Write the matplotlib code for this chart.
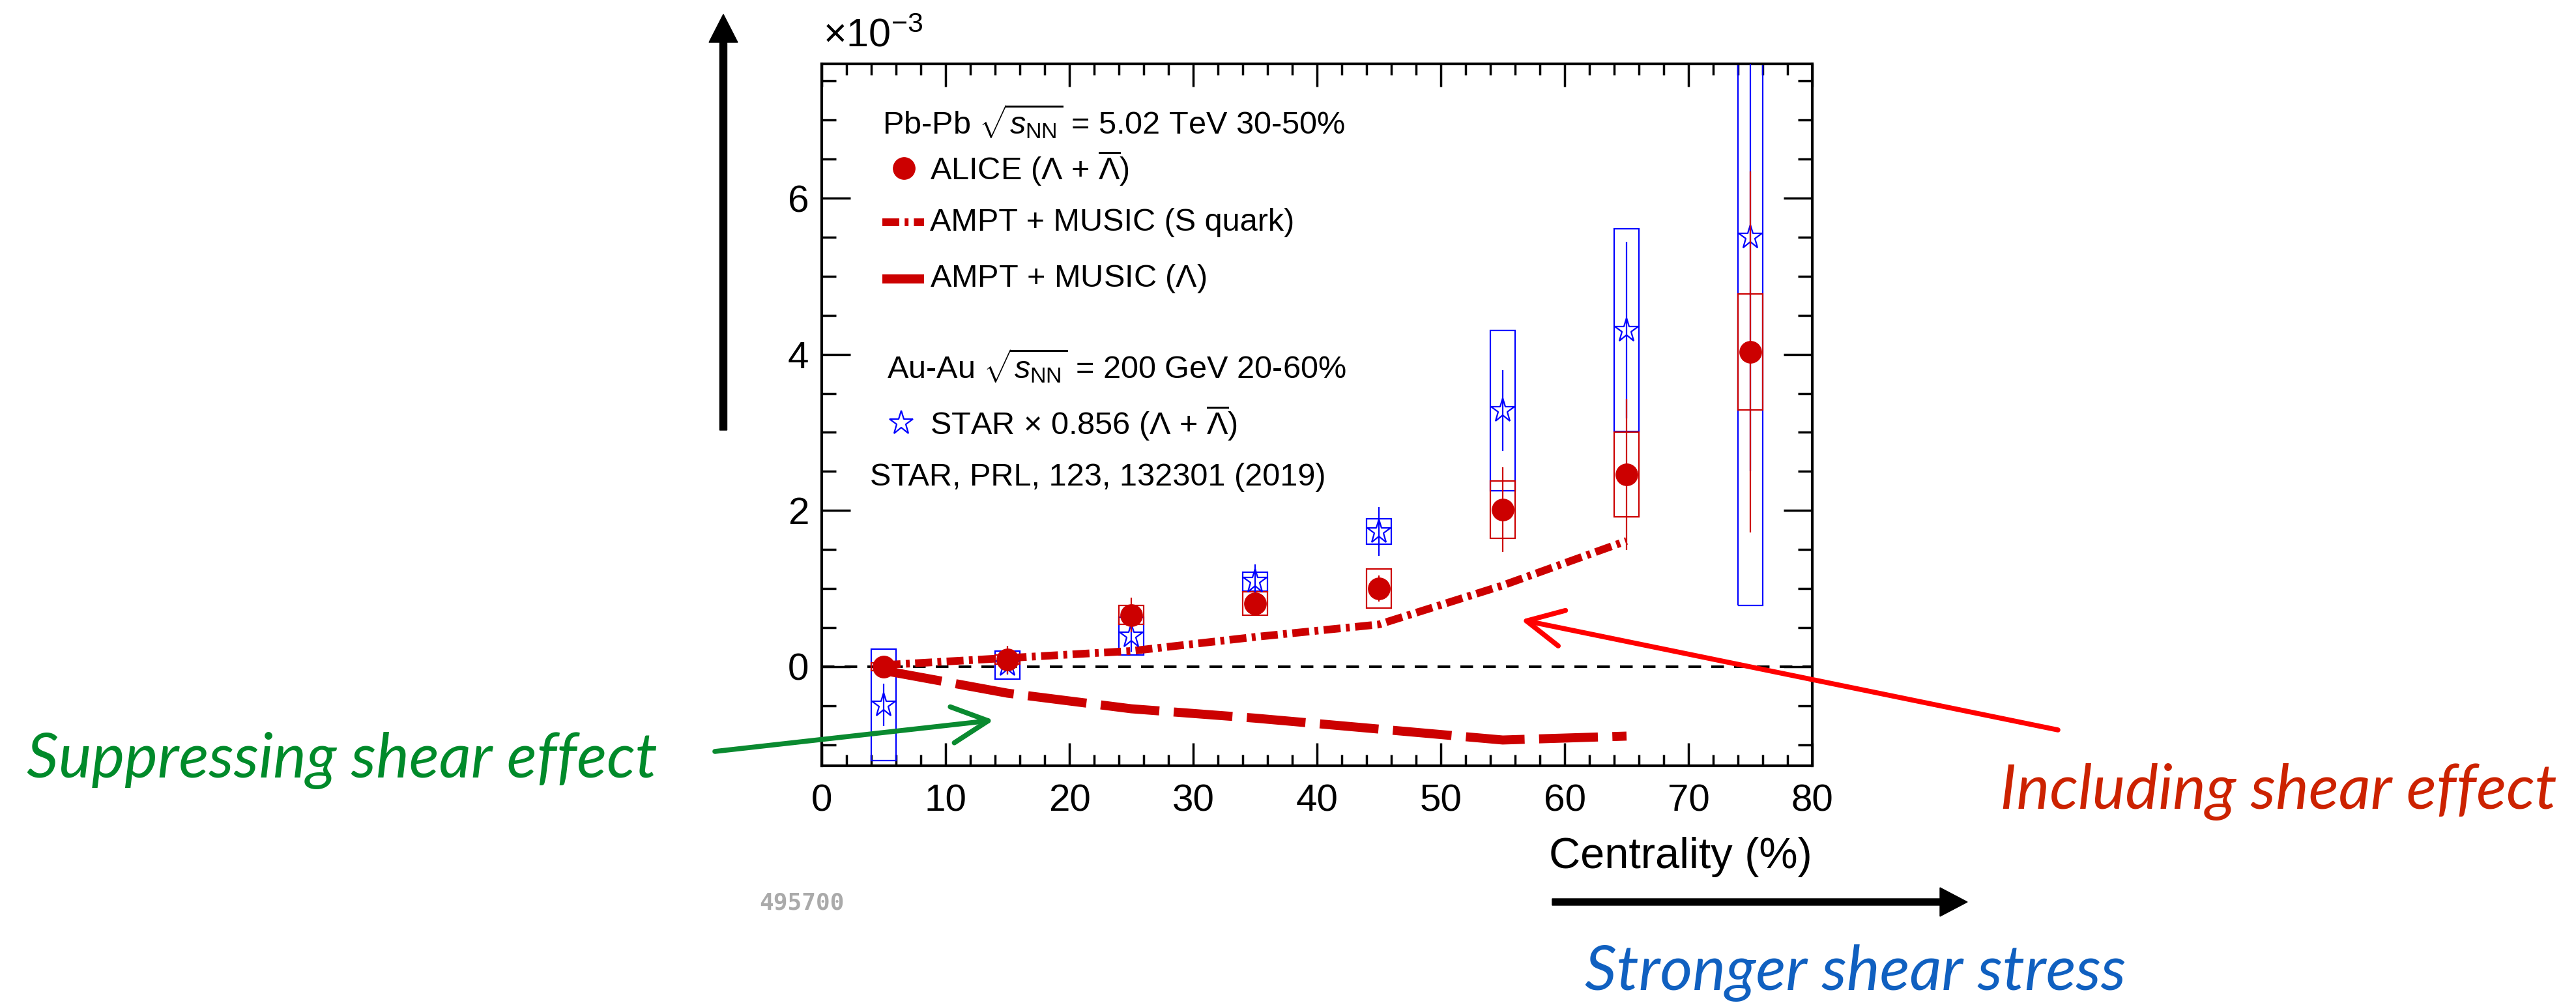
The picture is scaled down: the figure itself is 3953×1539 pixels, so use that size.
import matplotlib
matplotlib.use("Agg")
import matplotlib.pyplot as plt
from matplotlib.ticker import MultipleLocator
from matplotlib.patches import FancyArrow, FancyArrowPatch
from matplotlib.transforms import IdentityTransform

# --- DATA (values in units of 1e-3) ---
centrality = [5, 15, 25, 35, 45, 55, 65, 75]

alice_y = [0.0, 0.09, 0.66, 0.81, 1.0, 2.01, 2.46, 4.03]
alice_stat = [0.08, 0.18, 0.22, 0.14, 0.17, 0.54, 0.97, 2.31]
alice_sys = [0.05, 0.06, 0.12, 0.15, 0.25, 0.37, 0.54, 0.74]

star_y = [-0.49, 0.02, 0.39, 1.09, 1.73, 3.28, 4.31, 5.50]
star_stat = [0.27, 0.12, 0.20, 0.22, 0.31, 0.52, 1.13, 3.0]
star_sys = [0.71, 0.18, 0.24, 0.12, 0.16, 1.03, 1.30, 4.72]

model_x = [5, 15, 25, 35, 45, 55, 65]
squark_y = [0.02, 0.11, 0.20, 0.38, 0.54, 1.04, 1.61]
lambda_y = [-0.05, -0.34, -0.54, -0.66, -0.80, -0.94, -0.89]

x_ticks = [0, 10, 20, 30, 40, 50, 60, 70, 80]
y_ticks = [0, 2, 4, 6]

# --- STYLE ---
W, H = 3953, 1539
plt.rcParams["font.family"] = ["Liberation Sans", "DejaVu Sans"]
plt.rcParams["mathtext.fontset"] = "custom"
plt.rcParams["mathtext.rm"] = "Liberation Sans"
plt.rcParams["mathtext.it"] = "Liberation Sans:italic"
plt.rcParams["mathtext.bf"] = "Liberation Sans:bold"

RED = "#cc0000"
BLUE = "#0000ff"
SQ_STYLE = (0, (2.2, 0.7, 0.5, 0.7))

fig = plt.figure(figsize=(W / 100, H / 100), dpi=100)
ax = fig.add_axes([1261 / W, 1 - 1175 / H, 1520 / W, 1077 / H])

# systematic boxes
lo = [y - s for y, s in zip(star_y, star_sys)]
hi = [2 * s for s in star_sys]
ax.bar(centrality, hi, bottom=lo, width=2, fill=False, edgecolor=BLUE, linewidth=1.6, zorder=2)
lo = [y - s for y, s in zip(alice_y, alice_sys)]
hi = [2 * s for s in alice_sys]
ax.bar(centrality, hi, bottom=lo, width=2, fill=False, edgecolor=RED, linewidth=1.6, zorder=3)

# zero line
ax.axhline(0, color="k", linestyle=(0, (5, 4)), linewidth=2.8, zorder=1)

# models
ax.plot(model_x, squark_y, color=RED, linewidth=8.5, linestyle=SQ_STYLE,
        dash_capstyle="butt", zorder=4)
ax.plot(model_x, lambda_y, color=RED, linewidth=10, linestyle=(0, (6.5, 1.6)),
        dash_capstyle="butt", zorder=4)

# points with stat errors
ax.errorbar(centrality, star_y, yerr=star_stat, fmt="none", ecolor=BLUE, elinewidth=1.6, zorder=5)
ax.plot(centrality, star_y, linestyle="none", marker="*", markersize=28, markerfacecolor="none",
        markeredgecolor=BLUE, markeredgewidth=1.6, zorder=6)
ax.errorbar(centrality, alice_y, yerr=alice_stat, fmt="none", ecolor=RED, elinewidth=1.6, zorder=7)
ax.plot(centrality, alice_y, linestyle="none", marker="o", markersize=24, color=RED, zorder=8)

# axes
ax.set_xlim(0, 80)
ax.set_ylim(-1.27, 7.72)
ax.set_xticks(x_ticks)
ax.set_yticks(y_ticks)
ax.xaxis.set_minor_locator(MultipleLocator(2))
ax.yaxis.set_minor_locator(MultipleLocator(0.5))
ax.tick_params(which="both", direction="in", top=True, right=True, width=2.5, labelsize=42)
ax.tick_params(axis="x", which="major", length=25, pad=20)
ax.tick_params(axis="x", which="minor", length=12)
ax.tick_params(axis="y", which="major", length=32, pad=14)
ax.tick_params(axis="y", which="minor", length=16)
for sp in ax.spines.values():
    sp.set_linewidth(3)

ax.set_xlabel("Centrality (%)", fontsize=48)
ax.xaxis.set_label_coords(1.0, -0.146)
ax.xaxis.label.set_horizontalalignment("right")
ax.xaxis.label.set_verticalalignment("baseline")

fig.text(1263 / W, 1 - 71 / H, r"$\times$10$^{-3}$", fontsize=44, ha="left", va="baseline")

# --- LEGEND (ROOT style) ---
fs = 35
ax.text(0.061, 0.918, r"Pb-Pb $\sqrt{s_{\rm NN}}$ = 5.02 TeV 30-50%", transform=ax.transAxes,
        fontsize=fs, va="center")
ax.plot([0.083], [0.851], transform=ax.transAxes, marker="o", markersize=24, color=RED, clip_on=False)
ax.text(0.109, 0.851, r"ALICE ($\Lambda$ + $\overline{\Lambda}$)", transform=ax.transAxes,
        fontsize=fs, va="center")
ax.plot([0.061, 0.103], [0.774, 0.774], transform=ax.transAxes, color=RED, linewidth=8.5,
        linestyle=SQ_STYLE, dash_capstyle="butt", clip_on=False)
ax.text(0.109, 0.774, "AMPT + MUSIC (S quark)", transform=ax.transAxes, fontsize=fs, va="center")
ax.plot([0.061, 0.103], [0.694, 0.694], transform=ax.transAxes, color=RED, linewidth=10,
        solid_capstyle="butt", clip_on=False)
ax.text(0.109, 0.694, r"AMPT + MUSIC ($\Lambda$)", transform=ax.transAxes, fontsize=fs, va="center")
ax.text(0.066, 0.570, r"Au-Au $\sqrt{s_{\rm NN}}$ = 200 GeV 20-60%", transform=ax.transAxes,
        fontsize=fs, va="center")
ax.plot([0.080], [0.488], transform=ax.transAxes, marker="*", markersize=28, markerfacecolor="none",
        markeredgecolor=BLUE, markeredgewidth=1.6, clip_on=False)
ax.text(0.109, 0.488, r"STAR $\times$ 0.856 ($\Lambda$ + $\overline{\Lambda}$)", transform=ax.transAxes,
        fontsize=fs, va="center")
ax.text(0.049, 0.411, "STAR, PRL, 123, 132301 (2019)", transform=ax.transAxes, fontsize=fs, va="center")

# --- ANNOTATIONS ---
anno_font = ["Lato", "DejaVu Sans"]
fig.text(41 / W, 1 - 1193 / H, "Suppressing shear effect", color="#008a2a", fontsize=69,
         family=anno_font, style="italic", va="baseline")
fig.text(3069 / W, 1 - 1241 / H, "Including shear effect", color="#cc2200", fontsize=69,
         family=anno_font, style="italic", va="baseline")
fig.text(2432 / W, 1 - 1519 / H, "Stronger shear stress", color="#1060c0", fontsize=69,
         family=anno_font, style="italic", va="baseline")
fig.text(1165 / W, 1 - 1395 / H, "495700", color="#aaaaaa", fontsize=26, family="DejaVu Sans Mono",
         weight="bold", va="baseline")

ident = IdentityTransform()
fig.add_artist(FancyArrow(1110, H - 660, 0, 638, width=11, head_width=44, head_length=43,
                          length_includes_head=True, color="k", transform=ident))
fig.add_artist(FancyArrow(2382, H - 1384, 637, 0, width=10, head_width=44, head_length=42,
                          length_includes_head=True, color="k", transform=ident))
fig.add_artist(FancyArrowPatch((1097, H - 1153), (1525, H - 1105), transform=ident,
                               arrowstyle="->,head_length=1.0,head_width=0.5", mutation_scale=40,
                               color="#0a8a30", linewidth=5.5, shrinkA=0, shrinkB=0))
fig.add_artist(FancyArrowPatch((3158, H - 1120), (2334, H - 951), transform=ident,
                               arrowstyle="->,head_length=1.0,head_width=0.5", mutation_scale=40,
                               color="#ff0000", linewidth=5.5, shrinkA=0, shrinkB=0))

fig.savefig("out.png", dpi=100)
